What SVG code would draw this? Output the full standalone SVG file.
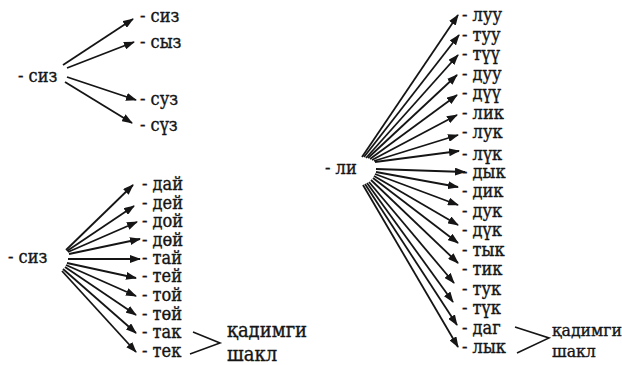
<svg xmlns="http://www.w3.org/2000/svg" width="622" height="365" viewBox="0 0 622 365">
<defs>
<marker id="ah" markerWidth="11" markerHeight="8" refX="10" refY="4" orient="auto" markerUnits="userSpaceOnUse">
<path d="M0,0 L11,4 L0,8 z" fill="#151515"/>
</marker>
<style>
.t{font-family:'DejaVu Serif Condensed','DejaVu Serif','Liberation Serif',serif;font-size:18px;fill:#151515;stroke:#151515;stroke-width:0.35}
.l{font-size:20px}
.s{font-size:17.5px}
.a{stroke:#151515;stroke-width:1.8;fill:none;marker-end:url(#ah)}
.b{stroke:#151515;stroke-width:1.6;fill:none}
</style>
</defs>
<rect width="622" height="365" fill="#ffffff"/>

<g id="connectors">
<line class="a" x1="63" y1="65" x2="133" y2="19"/>
<line class="a" x1="67" y1="68" x2="134" y2="42"/>
<line class="a" x1="67" y1="77" x2="136" y2="100"/>
<line class="a" x1="65" y1="82" x2="132" y2="123"/>
<line class="a" x1="66" y1="250" x2="133" y2="185"/>
<line class="a" x1="67" y1="251" x2="134" y2="206"/>
<line class="a" x1="68" y1="252" x2="137" y2="222"/>
<line class="a" x1="69" y1="254" x2="140" y2="239"/>
<line class="a" x1="68" y1="259" x2="140" y2="259"/>
<line class="a" x1="67" y1="263" x2="136" y2="278"/>
<line class="a" x1="66" y1="265" x2="136" y2="296"/>
<line class="a" x1="65" y1="267" x2="136" y2="315"/>
<line class="a" x1="63" y1="269" x2="136" y2="333"/>
<line class="a" x1="62" y1="271" x2="136" y2="352"/>
<polyline class="b" points="193,332 220,343 190,354"/>
<line class="a" x1="362" y1="157" x2="458" y2="15"/>
<line class="a" x1="364" y1="157" x2="459" y2="35"/>
<line class="a" x1="366" y1="158" x2="458" y2="55"/>
<line class="a" x1="368" y1="158" x2="457" y2="75"/>
<line class="a" x1="370" y1="159" x2="457" y2="95"/>
<line class="a" x1="372" y1="160" x2="457" y2="115"/>
<line class="a" x1="374" y1="161" x2="458" y2="135"/>
<line class="a" x1="375" y1="162" x2="459" y2="151"/>
<line class="a" x1="376" y1="169" x2="465" y2="172"/>
<line class="a" x1="376" y1="172" x2="458" y2="187"/>
<line class="a" x1="375" y1="174" x2="458" y2="205"/>
<line class="a" x1="374" y1="176" x2="458" y2="225"/>
<line class="a" x1="373" y1="178" x2="458" y2="243"/>
<line class="a" x1="371" y1="180" x2="458" y2="263"/>
<line class="a" x1="369" y1="182" x2="454" y2="283"/>
<line class="a" x1="367" y1="183" x2="453" y2="302"/>
<line class="a" x1="365" y1="184" x2="457" y2="325"/>
<line class="a" x1="363" y1="185" x2="458" y2="347"/>
<polyline class="b" points="515,327 549,338 517,353"/>
</g>

<g id="n-siz1"><text class="t" x="18" y="82">- сиз</text></g>
<g id="n-siz1a"><text class="t" x="140" y="22">- сиз</text></g>
<g id="n-syz"><text class="t" x="140" y="48">- сыз</text></g>
<g id="n-suz"><text class="t" x="140" y="105">- суз</text></g>
<g id="n-syz2"><text class="t" x="140" y="131">- сүз</text></g>

<g id="n-siz2"><text class="t" x="8" y="263">- сиз</text></g>
<g id="n-dai"><text class="t" x="142" y="190">- дай</text></g>
<g id="n-dei"><text class="t" x="142" y="209">- дей</text></g>
<g id="n-doi"><text class="t" x="142" y="227">- дой</text></g>
<g id="n-doei"><text class="t" x="142" y="246">- дөй</text></g>
<g id="n-tai"><text class="t" x="142" y="264">- тай</text></g>
<g id="n-tei"><text class="t" x="142" y="282">- тей</text></g>
<g id="n-toi"><text class="t" x="142" y="301">- той</text></g>
<g id="n-toei"><text class="t" x="142" y="320">- төй</text></g>
<g id="n-tak"><text class="t" x="142" y="338">- так</text></g>
<g id="n-tek"><text class="t" x="142" y="357">- тек</text></g>
<g id="n-qadimgi1"><text class="t l" x="227" y="337">қадимги</text><text class="t l" x="227" y="361">шакл</text></g>

<g id="n-li"><text class="t" x="325" y="174">- ли</text></g>
<g id="n-luu"><text class="t" x="462" y="21">- луу</text></g>
<g id="n-tuu"><text class="t" x="462" y="41">- туу</text></g>
<g id="n-tyy"><text class="t" x="462" y="60">- түү</text></g>
<g id="n-duu"><text class="t" x="462" y="80">- дуу</text></g>
<g id="n-dyy"><text class="t" x="462" y="99">- дүү</text></g>
<g id="n-lik"><text class="t" x="462" y="119">- лик</text></g>
<g id="n-luk"><text class="t" x="462" y="138">- лук</text></g>
<g id="n-lyk"><text class="t" x="462" y="160">- лүк</text></g>
<g id="n-dyk"><text class="t" x="462" y="178">- дык</text></g>
<g id="n-dik"><text class="t" x="462" y="197">- дик</text></g>
<g id="n-duk"><text class="t" x="462" y="217">- дук</text></g>
<g id="n-dük"><text class="t" x="462" y="236">- дүк</text></g>
<g id="n-tyk"><text class="t" x="462" y="256">- тык</text></g>
<g id="n-tik"><text class="t" x="462" y="275">- тик</text></g>
<g id="n-tuk"><text class="t" x="462" y="295">- тук</text></g>
<g id="n-tük"><text class="t" x="462" y="314">- түк</text></g>
<g id="n-dag"><text class="t" x="462" y="334">- даг</text></g>
<g id="n-lyk2"><text class="t" x="462" y="353">- лык</text></g>
<g id="n-qadimgi2"><text class="t s" x="552" y="336">қадимги</text><text class="t s" x="552" y="357">шакл</text></g>
</svg>
